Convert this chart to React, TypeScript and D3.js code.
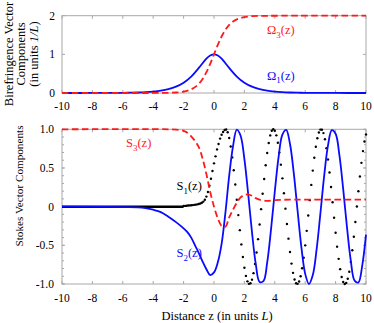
import React from 'react';
import * as d3 from 'd3';

// ---- data ----
const zTicks = [-10, -8, -6, -4, -2, 0, 2, 4, 6, 8, 10];
const topTicks = [0, 1, 2];
const botTicks = [-1, -0.5, 0, 0.5, 1];
const botTickLabels = ['-1.0', '-0.5', '0', '0.5', '1.0'];

// Omega_1(z)
const zO1 = [-10, -8, -7, -6, -5.5, -5, -4.5, -4, -3.5, -3, -2.5, -2, -1.5, -1, -0.5, -0.25, 0, 0.25, 0.5, 1, 1.5, 2, 2.5, 3, 3.5, 4, 4.5, 5, 5.5, 6, 7, 8, 10];
const omega1 = [0, 0.001, 0.002, 0.005, 0.008, 0.013, 0.022, 0.037, 0.06, 0.099, 0.163, 0.266, 0.425, 0.648, 0.887, 0.97, 1, 0.97, 0.887, 0.648, 0.425, 0.266, 0.163, 0.099, 0.06, 0.037, 0.022, 0.013, 0.008, 0.005, 0.002, 0.001, 0];

// Omega_3(z)
const zO3 = [-10, -5, -4, -3.5, -3, -2.5, -2, -1.5, -1.25, -1, -0.75, -0.5, -0.25, 0, 0.25, 0.5, 0.75, 1, 1.25, 1.5, 2, 2.5, 3, 3.5, 4, 5, 10];
const omega3 = [0, 0.0001, 0.0007, 0.002, 0.005, 0.013, 0.036, 0.095, 0.152, 0.238, 0.365, 0.538, 0.755, 1, 1.245, 1.462, 1.635, 1.762, 1.848, 1.905, 1.964, 1.987, 1.995, 1.998, 1.999, 2, 2];

// S3(z)
const zS3 = [-10, -3, -2.5, -2, -1.75, -1.5, -1.25, -1, -0.75, -0.5, -0.25, 0, 0.25, 0.5, 0.75, 1, 1.25, 1.5, 1.75, 2, 2.25, 2.5, 2.75, 3, 3.5, 4, 5, 10];
const s3 = [1, 1, 0.995, 0.98, 0.955, 0.91, 0.85, 0.77, 0.62, 0.42, 0.19, 0, -0.15, -0.25, -0.26, -0.14, -0.04, 0.05, 0.12, 0.15, 0.16, 0.14, 0.11, 0.09, 0.075, 0.085, 0.09, 0.09];

// S2(z)
const zS2 = [-10, -5, -4.5, -4, -3.5, -3, -2.5, -2, -1.75, -1.5, -1.25, -1, -0.75, -0.5, -0.25, 0, 0.25, 0.5, 0.75, 1, 1.25,
  1.5, 1.75, 2, 2.25, 2.5, 2.75, 3, 3.25, 3.5, 3.75, 4, 4.25, 4.5, 4.75, 5, 5.25, 5.5, 5.75, 6, 6.25, 6.5, 6.75, 7, 7.25, 7.5, 7.75, 8, 8.25, 8.5, 8.75, 9, 9.25, 9.5, 9.75, 10];
const s2 = [0, -0.01, -0.02, -0.04, -0.07, -0.13, -0.2, -0.28, -0.33, -0.4, -0.5, -0.6, -0.71, -0.81, -0.885, -0.85, -0.72, -0.48, -0.08, 0.4, 0.78,
  0.996, 0.917, 0.615, 0.161, -0.332, -0.744, -0.973, -0.964, -0.721, -0.298, 0.196, 0.642, 0.931, 0.992, 0.81, 0.431, -0.055, -0.526, -0.869, -1.0, -0.885, -0.553, -0.086, 0.402, 0.792, 0.988, 0.942, 0.665, 0.226, -0.268, -0.699, -0.957, -0.98, -0.765, -0.361];

// S1(z): flat part, then sampled points every 0.1 from z = -2
const zS1Flat = [-10, -2];
const s1Flat = [0, 0];
const s1Start = -2;
const s1Step = 0.1;
const s1 = [
  0.01, 0.01, 0.012, 0.014, 0.016, 0.018, 0.02, 0.023, 0.026, 0.03,
  0.034, 0.04, 0.05, 0.065, 0.09, 0.13, 0.19, 0.27, 0.36, 0.46,
  0.56, 0.65, 0.74, 0.81, 0.88, 0.93, 0.965, 0.99, 0.997, 0.961,
  0.887, 0.778, 0.637, 0.471, 0.287, 0.09, -0.109, -0.304, -0.488, -0.651,
  -0.789, -0.895, -0.966, -0.998, -0.991, -0.944, -0.86, -0.741, -0.592, -0.42,
  -0.231, -0.032, 0.167, 0.358, 0.536, 0.693, 0.823, 0.921, 0.982, 1.0,
  0.981, 0.922, 0.827, 0.699, 0.543, 0.366, 0.173, -0.026, -0.224, -0.414,
  -0.586, -0.736, -0.856, -0.941, -0.99, -0.998, -0.968, -0.9, -0.796, -0.661,
  -0.5, -0.313, -0.115, 0.084, 0.281, 0.466, 0.632, 0.774, 0.884, 0.959,
  0.996, 0.994, 0.951, 0.871, 0.756, 0.61, 0.441, 0.254, 0.057, -0.143,
  -0.337, -0.517, -0.675, -0.808, -0.91, -0.974, -1.0, -0.986, -0.932, -0.841,
  -0.717, -0.564, -0.389, -0.198, 0.002, 0.2, 0.39, 0.566, 0.718, 0.842,
  0.933,
];

const RED = '#ff1a1a';
const BLUE = '#0a0aff';
const FRAME = '#a8a8a8';

const W = 374;
const H = 323;

export default function App() {
  const x = d3.scaleLinear().domain([-10, 10]).range([62, 366]);
  const yT = d3.scaleLinear().domain([0, 2]).range([93, 15.7]);
  const yB = d3.scaleLinear().domain([-1, 1]).range([284, 129.3]);

  const mk = (zs: number[], vs: number[], ys: d3.ScaleLinear<number, number>) =>
    d3.line<number>().x((_, i) => x(zs[i])).y((v) => ys(v)).curve(d3.curveCatmullRom.alpha(0.5))(vs) || '';

  const pO1 = mk(zO1, omega1, yT);
  const pO3 = mk(zO3, omega3, yT);
  const pS3 = mk(zS3, s3, yB);
  const pS2 = mk(zS2, s2, yB);
  const pS1Flat = d3.line<number>().x((_, i) => x(zS1Flat[i])).y((v) => yB(v))(s1Flat) || '';

  const minorY = d3.range(-1, 1.001, 0.1);

  const frame = (ys: d3.ScaleLinear<number, number>, yTicks: number[], minor: number[]) => {
    const [y0, y1] = ys.range();
    return (
      <g>
        <rect x={x(-10)} y={y1} width={x(10) - x(-10)} height={y0 - y1} fill="none" stroke={FRAME} strokeWidth={1} />
        {zTicks.map((t) => (
          <g key={'zt' + t}>
            <line x1={x(t)} x2={x(t)} y1={y0} y2={y0 - 3} stroke={FRAME} />
            <line x1={x(t)} x2={x(t)} y1={y1} y2={y1 + 3} stroke={FRAME} />
          </g>
        ))}
        {yTicks.map((t) => (
          <g key={'yt' + t}>
            <line x1={x(-10)} x2={x(-10) + 3} y1={ys(t)} y2={ys(t)} stroke={FRAME} />
            <line x1={x(10)} x2={x(10) - 3} y1={ys(t)} y2={ys(t)} stroke={FRAME} />
          </g>
        ))}
        {minor.map((t, i) => (
          <g key={'ym' + i}>
            <line x1={x(-10)} x2={x(-10) + 2} y1={ys(t)} y2={ys(t)} stroke={FRAME} />
            <line x1={x(10)} x2={x(10) - 2} y1={ys(t)} y2={ys(t)} stroke={FRAME} />
          </g>
        ))}
      </g>
    );
  };

  const sub = (main: string, s: string, color: string, tx: number, ty: number) => (
    <text x={tx} y={ty} fill={color} fontSize={12.5}>
      {main}
      <tspan dy={3.5} fontSize={9}>{s}</tspan>
      <tspan dy={-3.5}>(z)</tspan>
    </text>
  );

  return (
    <svg width={W} height={H} style={{ position: 'absolute', left: 0, top: 0, background: '#fff' }}>
      <style>{`text { font-family: 'Liberation Serif', 'Times New Roman', serif; }`}</style>
      {frame(yT, topTicks, [])}
      {frame(yB, botTicks, minorY)}

      {/* top panel curves */}
      <path d={pO1} fill="none" stroke={BLUE} strokeWidth={1.8} />
      <path d={pO3} fill="none" stroke={RED} strokeWidth={1.8} strokeDasharray="6.5,3.5" />

      {/* bottom panel curves */}
      <path d={pS1Flat} fill="none" stroke="#000" strokeWidth={2.5} />
      {s1.map((v, i) => (
        <circle key={'d' + i} cx={x(s1Start + i * s1Step)} cy={yB(v)} r={1.2} fill="#000" />
      ))}
      <path d={pS2} fill="none" stroke={BLUE} strokeWidth={1.8} />
      <path d={pS3} fill="none" stroke={RED} strokeWidth={1.8} strokeDasharray="6.5,3.5" />

      {/* tick labels */}
      {zTicks.map((t) => (
        <text key={'lt' + t} x={x(t)} y={110} textAnchor="middle" fontSize={11.5}>{String(t)}</text>
      ))}
      {zTicks.map((t) => (
        <text key={'lb' + t} x={x(t)} y={301.5} textAnchor="middle" fontSize={11.5}>{String(t)}</text>
      ))}
      {topTicks.map((t) => (
        <text key={'ly' + t} x={55} y={yT(t) + 4} textAnchor="end" fontSize={11.5}>{String(t)}</text>
      ))}
      {botTicks.map((t, i) => (
        <text key={'lby' + t} x={54} y={yB(t) + 4} textAnchor="end" fontSize={11.5}>{botTickLabels[i]}</text>
      ))}

      {/* series labels */}
      {sub('Ω', '3', RED, 267, 34)}
      {sub('Ω', '1', BLUE, 267, 79.5)}
      {sub('S', '3', RED, 126, 147)}
      {sub('S', '1', '#000', 176.5, 190)}
      {sub('S', '2', BLUE, 176.5, 257)}

      {/* axis titles */}
      <g transform="rotate(-90)" textAnchor="middle">
        <text x={-54} y={12.5} fontSize={12.5}>Birefringence Vector</text>
        <text x={-54} y={25.3} fontSize={12.5}>Components</text>
        <text x={-54} y={38} fontSize={12.5}>(in units <tspan fontStyle="italic">1/L</tspan>)</text>
        <text x={-186} y={22.5} fontSize={11.2}>Stokes Vector Components</text>
      </g>
      <text x={217} y={319.5} textAnchor="middle" fontSize={12.5}>
        Distance z (in units <tspan fontStyle="italic">L</tspan>)
      </text>
    </svg>
  );
}
